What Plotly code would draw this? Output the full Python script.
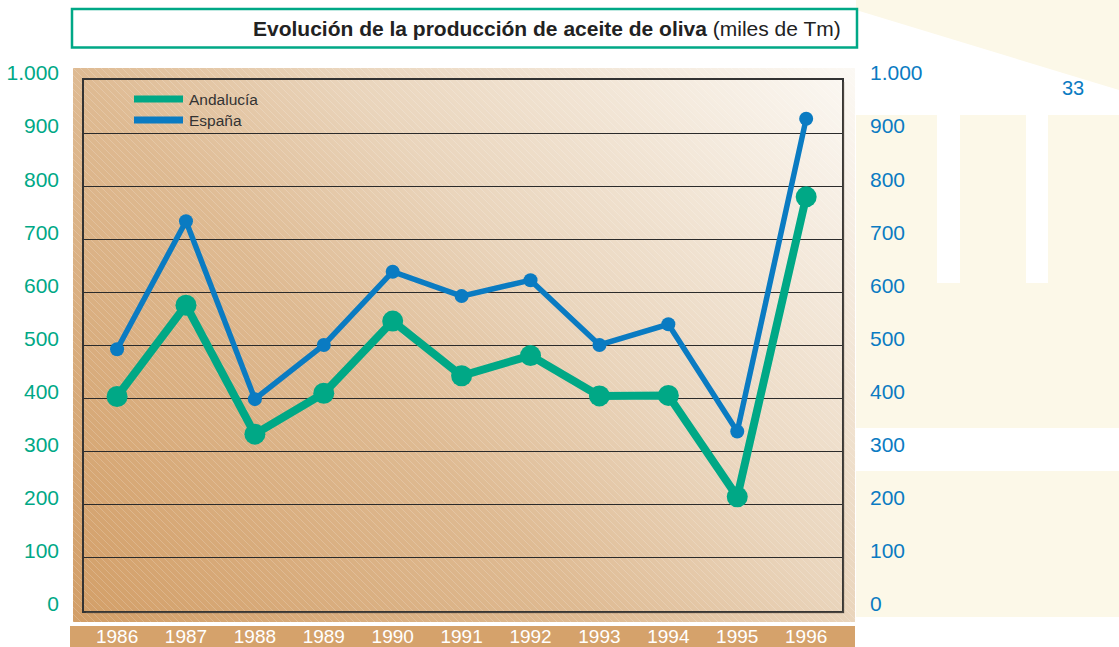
import base64
import struct
import zlib

import numpy as np
import plotly.graph_objects as go

# ---------------- data ----------------
years = [1986, 1987, 1988, 1989, 1990, 1991, 1992, 1993, 1994, 1995, 1996]
andalucia = [404, 576, 333, 410, 546, 443, 481, 405, 406, 215, 780]
espana = [493, 734, 399, 501, 639, 593, 623, 501, 540, 338, 927]
y_ticks = [0, 100, 200, 300, 400, 500, 600, 700, 800, 900, 1000]
series_names = ["Andalucía", "España"]
title_bold = "Evolución de la producción de aceite de oliva"
title_unit = "(miles de Tm)"
page_number = "33"

GREEN = "#00A886"
BLUE = "#0A7BC2"
CREAM = "#FCF8E8"
TAN = "#D5A26B"
SANS = "Liberation Sans, Arial, Helvetica, sans-serif"

W, H = 1119, 647
PL, PR, PT, PB = 84, 842, 80, 611  # plot area in pixels


def px(x):
    return (x - PL) / (PR - PL)


def py(y):
    return (PB - y) / (PB - PT)


# ---------------- gradient panel image ----------------
def png_data_uri(arr):
    h, w, _ = arr.shape
    raw = b"".join(b"\x00" + arr[i].tobytes() for i in range(h))

    def chunk(t, d):
        c = struct.pack(">I", len(d)) + t + d
        return c + struct.pack(">I", zlib.crc32(t + d) & 0xFFFFFFFF)

    png = (b"\x89PNG\r\n\x1a\n"
           + chunk(b"IHDR", struct.pack(">IIBBBBB", w, h, 8, 2, 0, 0, 0))
           + chunk(b"IDAT", zlib.compress(raw, 9))
           + chunk(b"IEND", b""))
    return "data:image/png;base64," + base64.b64encode(png).decode()


GX0, GX1, GY0, GY1 = 73, 855, 68, 622
gw, gh = GX1 - GX0, GY1 - GY0
xs = np.arange(gw)[None, :]
ys = np.arange(gh)[:, None]
u = xs / (gw - 1)
v = 1 - ys / (gh - 1)
t = 0.6 * u + 0.4 * v
stops = [0.0, 0.4, 0.6, 1.0]
cols = np.array([[211, 159, 104], [223, 187, 147], [234, 213, 188], [252, 249, 244]], float)
img = np.zeros((gh, gw, 3), float)
for c in range(3):
    img[:, :, c] = np.interp(t, stops, cols[:, c])
hatch = ((xs - ys) % 7) == 0
img = np.where(hatch[:, :, None], img + (255 - img) * 0.18, img)
img = np.clip(img, 0, 255).astype(np.uint8)
panel_uri = png_data_uri(img)

# ---------------- figure ----------------
fig = go.Figure()
fig.add_trace(go.Scatter(
    x=years, y=andalucia, name=series_names[0], mode="lines+markers",
    line=dict(color=GREEN, width=8), marker=dict(color=GREEN, size=21),
    showlegend=False, yaxis="y"))
fig.add_trace(go.Scatter(
    x=years, y=espana, name=series_names[1], mode="lines+markers",
    line=dict(color=BLUE, width=5.5), marker=dict(color=BLUE, size=14),
    showlegend=False, yaxis="y2"))

shapes = []
# right cream decoration
shapes.append(dict(type="rect", xref="paper", yref="paper", x0=px(856), x1=px(1119), y0=py(0), y1=py(617),
                   fillcolor=CREAM, line=dict(width=0), layer="below"))
shapes.append(dict(type="path", xref="paper", yref="paper",
                   path=f"M{px(856)},{py(10)} L{px(1119)},{py(90)} L{px(1119)},{py(115)} L{px(856)},{py(115)} Z",
                   fillcolor="white", line=dict(width=0), layer="below"))
for a, b in [(937, 960), (1026, 1048)]:
    shapes.append(dict(type="rect", xref="paper", yref="paper", x0=px(a), x1=px(b), y0=py(115), y1=py(283),
                       fillcolor="white", line=dict(width=0), layer="below"))
shapes.append(dict(type="rect", xref="paper", yref="paper", x0=px(856), x1=px(1119), y0=py(428), y1=py(471),
                   fillcolor="white", line=dict(width=0), layer="below"))
# bottom tan band for year labels
shapes.append(dict(type="rect", xref="paper", yref="paper", x0=px(70), x1=px(855), y0=py(626), y1=py(650),
                   fillcolor=TAN, line=dict(width=0), layer="below"))
# title box
shapes.append(dict(type="rect", xref="paper", yref="paper", x0=px(72), x1=px(857), y0=py(9), y1=py(47.5),
                   fillcolor="white", line=dict(color=GREEN, width=2.5), layer="below"))
# frame shadow
shapes.append(dict(type="path", xref="paper", yref="paper",
                   path=f"M{px(PR + 1.5)},{py(PT + 2)} L{px(PR + 1.5)},{py(PB + 1.5)} L{px(PL + 2)},{py(PB + 1.5)}",
                   line=dict(color="rgba(90,80,70,0.6)", width=1.5), layer="above"))
# manual legend samples
legend_y = [99, 120]
legend_colors = [GREEN, BLUE]
for ly, lc in zip(legend_y, legend_colors):
    shapes.append(dict(type="line", xref="paper", yref="paper", x0=px(134), x1=px(183), y0=py(ly), y1=py(ly),
                       line=dict(color=lc, width=7), layer="above"))

annotations = [
    dict(xref="paper", yref="paper", x=px(843), y=py(28), xanchor="right", yanchor="middle",
         text=f"<b>{title_bold}</b> {title_unit}", showarrow=False,
         font=dict(family=SANS, size=21, color="#222222")),
    dict(xref="paper", yref="paper", x=px(1073), y=py(88), xanchor="center", yanchor="middle",
         text=page_number, showarrow=False,
         font=dict(family=SANS, size=20, color=BLUE)),
]
for ly, name in zip(legend_y, series_names):
    annotations.append(dict(xref="paper", yref="paper", x=px(187), y=py(ly), xanchor="left", yanchor="middle",
                            text=name, showarrow=False,
                            font=dict(family=SANS, size=15.5, color="#333333")))

fig.update_layout(
    width=W, height=H,
    margin=dict(l=PL, r=W - PR, t=PT, b=H - PB, pad=0, autoexpand=False),
    paper_bgcolor="white", plot_bgcolor="rgba(0,0,0,0)",
    separators=",.",
    showlegend=False,
    shapes=shapes, annotations=annotations,
    images=[dict(source=panel_uri, xref="paper", yref="paper", x=px(GX0), y=py(GY0),
                 sizex=gw / (PR - PL), sizey=gh / (PB - PT), xanchor="left", yanchor="top",
                 sizing="stretch", layer="below")],
    xaxis=dict(range=[1985.52, 1996.52], tickvals=years, ticktext=[str(y) for y in years],
               automargin=False,
               showgrid=False, zeroline=False, ticks="", showline=True, mirror=True,
               linecolor="#333333", linewidth=1.5, ticklabelstandoff=7,
               tickfont=dict(family=SANS, size=19, color="white")),
    yaxis=dict(range=[0, 1000], tickvals=y_ticks, tickformat=",", showgrid=True, automargin=False,
               gridcolor="#2b2b2b", gridwidth=1.2, zeroline=False, ticks="",
               showline=True, mirror=True, linecolor="#333333", linewidth=1.5,
               ticklabelstandoff=19, ticklabelshift=-7,
               tickfont=dict(family=SANS, size=21, color=GREEN)),
    yaxis2=dict(range=[0, 1000], tickvals=y_ticks, tickformat=",", overlaying="y", side="right",
                automargin=False,
                showgrid=False, zeroline=False, ticks="", showline=False,
                ticklabelstandoff=27, ticklabelshift=-7,
                tickfont=dict(family=SANS, size=21, color=BLUE)),
)

fig.write_html("out.html", config={"displayModeBar": False},
               post_script="document.body.style.margin='0';document.body.style.overflow='hidden';")
